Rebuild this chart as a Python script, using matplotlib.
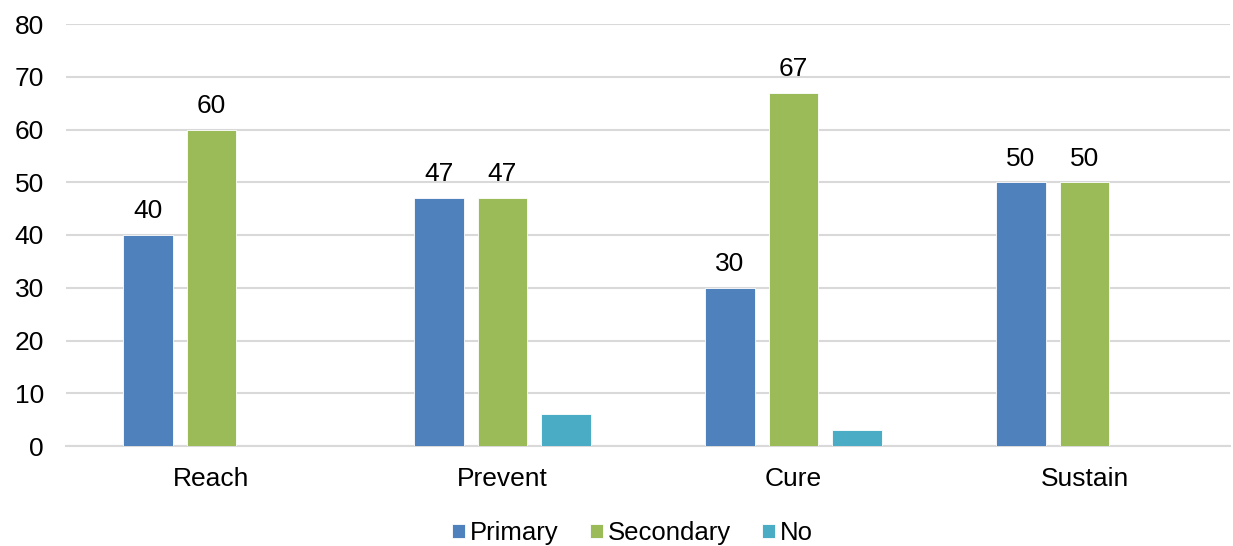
import matplotlib
matplotlib.use("Agg")
import matplotlib.pyplot as plt
import numpy as np

categories = ["Reach", "Prevent", "Cure", "Sustain"]
series_names = ["Primary", "Secondary", "No"]
primary = [40, 47, 30, 50]
secondary = [60, 47, 67, 50]
no_values = [0, 6, 3, 0]
colors = ["#4F81BD", "#9BBB59", "#4BACC6"]

plt.rcParams["font.family"] = ["Liberation Sans", "DejaVu Sans"]
fs = 19

fig = plt.figure(figsize=(12.33, 5.46), dpi=100)
ax = fig.add_axes([66 / 1233, 100 / 546, (1230 - 66) / 1233, (446 - 24) / 546])

x = np.arange(len(categories))
width = 0.171
step = 0.219
all_series = [primary, secondary, no_values]
for i, (vals, name, c) in enumerate(zip(all_series, series_names, colors)):
    pos = x + (i - 1) * step
    bars = ax.bar(pos, vals, width, color=c, label=name, zorder=3,
                  edgecolor="white", linewidth=0.6)
    if i < 2:
        for b, v in zip(bars, vals):
            ax.text(b.get_x() + b.get_width() / 2, v + 2.2, f"{v}",
                    ha="center", va="bottom", fontsize=fs, color="#000000")

ax.set_xlim(-0.5, 3.5)
ax.set_ylim(0, 80)
ax.set_yticks(range(0, 81, 10))
ax.set_xticks(x)
ax.set_xticklabels(categories, fontsize=fs)
ax.tick_params(axis="y", labelsize=fs, length=0, pad=16)
ax.tick_params(axis="x", length=0, pad=15)
ax.grid(axis="y", color="#D9D9D9", linewidth=1.5, zorder=0)
for s in ["top", "right", "left"]:
    ax.spines[s].set_visible(False)
ax.spines["bottom"].set_color("#D9D9D9")
ax.spines["bottom"].set_linewidth(1.5)

handles, labels = ax.get_legend_handles_labels()
fig.legend(handles, labels, loc="center", bbox_to_anchor=(0.513, 13 / 546),
           ncol=3, frameon=False, fontsize=18.5, handlelength=0.5, handleheight=0.5,
           handletextpad=0.2, columnspacing=1.2)

fig.savefig("out.png", dpi=100)
